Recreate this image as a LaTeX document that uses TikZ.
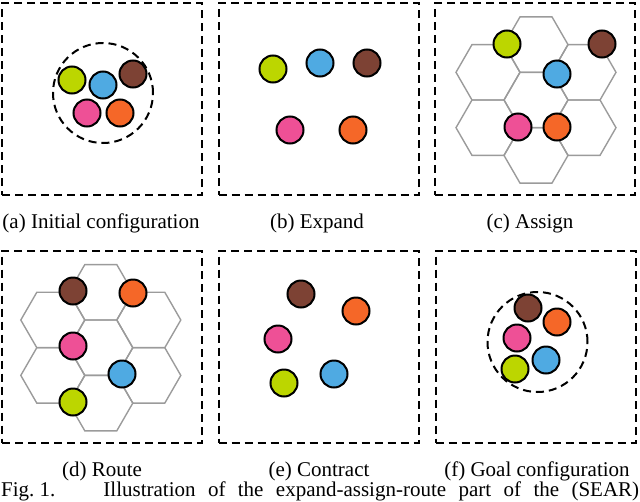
\documentclass[tikz,border=0pt]{standalone}
\usepackage{fontspec}
\setmainfont{Liberation Serif}
\definecolor{rlime}{RGB}{188,214,0}
\definecolor{rblue}{RGB}{79,170,226}
\definecolor{rbrown}{RGB}{125,66,52}
\definecolor{rpink}{RGB}{238,80,150}
\definecolor{rorange}{RGB}{245,103,40}
\definecolor{hexgray}{RGB}{155,155,155}
\newcommand{\hexcell}[2]{\draw[hexline] (#1+32,#2) -- ++(120:32) -- ++(180:32) -- ++(240:32) -- ++(300:32) -- ++(0:32) -- cycle;}
\newcommand{\hexflower}[2]{%
  \hexcell{#1}{#2}
  \hexcell{#1}{#2-55.4}
  \hexcell{#1}{#2+55.4}
  \hexcell{#1-48}{#2-27.7}
  \hexcell{#1+48}{#2-27.7}
  \hexcell{#1-48}{#2+27.7}
  \hexcell{#1+48}{#2+27.7}}
\begin{document}
\begin{tikzpicture}[x=1pt,y=-1pt,
  robot/.style={circle, draw=black, line width=2pt, minimum size=27pt, inner sep=0pt},
  frame/.style={draw=black, line width=2pt, dash pattern=on 8pt off 5pt, minimum width=200pt, minimum height=192pt, inner sep=0pt},
  ring/.style={circle, draw=black, line width=2pt, dash pattern=on 8pt off 5pt, minimum size=100pt, inner sep=0pt},
  hexline/.style={draw=hexgray, line width=1.4pt, line join=miter},
  subcap/.style={anchor=base, inner sep=0pt, font=\fontsize{21}{25}\selectfont}]
\useasboundingbox (0,0) rectangle (640,501);
% frames
\node[frame] (fa) at (102,99) {};
\node[frame] (fb) at (318.5,99) {};
\node[frame] (fc) at (535,99) {};
\node[frame] (fd) at (102,346.5) {};
\node[frame] (fe) at (318.5,346.5) {};
\node[frame] (ff) at (535.5,346.5) {};
% hex grids
\hexflower{536}{100}
\hexflower{100.8}{347.7}
% (a) initial
\node[robot, fill=rlime] (ag) at (72,80) {};
\node[robot, fill=rblue] (ab) at (103,85) {};
\node[robot, fill=rbrown] (abr) at (133,74) {};
\node[robot, fill=rpink] (ap) at (87,113) {};
\node[robot, fill=rorange] (ao) at (120,113) {};
\node[ring] (ra) at (103,93) {};
% (b) expand
\node[robot, fill=rlime] (bg) at (273,69) {};
\node[robot, fill=rblue] (bb) at (320,63) {};
\node[robot, fill=rbrown] (bbr) at (367,63) {};
\node[robot, fill=rpink] (bp) at (290,130) {};
\node[robot, fill=rorange] (bo) at (353,130) {};
% (c) assign
\node[robot, fill=rlime] (cg) at (507,44) {};
\node[robot, fill=rbrown] (cbr) at (602,44) {};
\node[robot, fill=rblue] (cb) at (557,74) {};
\node[robot, fill=rpink] (cp) at (518,127) {};
\node[robot, fill=rorange] (co) at (557,127) {};
% (d) route
\node[robot, fill=rbrown] (dbr) at (73,291) {};
\node[robot, fill=rorange] (do) at (133,293) {};
\node[robot, fill=rpink] (dp) at (73,346) {};
\node[robot, fill=rblue] (db) at (122,374) {};
\node[robot, fill=rlime] (dg) at (73,402) {};
% (e) contract
\node[robot, fill=rbrown] (ebr) at (301,294) {};
\node[robot, fill=rorange] (eo) at (356,311) {};
\node[robot, fill=rpink] (ep) at (278,339) {};
\node[robot, fill=rlime] (eg) at (284,383) {};
\node[robot, fill=rblue] (eb) at (334,374) {};
% (f) goal
\node[robot, fill=rbrown] (fbr) at (528,308) {};
\node[robot, fill=rorange] (fo) at (557,322) {};
\node[robot, fill=rpink] (fp) at (517,338) {};
\node[robot, fill=rblue] (fbl) at (546,360) {};
\node[robot, fill=rlime] (fg) at (515,369) {};
\node[ring] (rf) at (537.5,342) {};
% sub captions
\node[subcap] (ca) at (101,228) {(a) Initial configuration};
\node[subcap] (cb) at (317,228) {(b) Expand};
\node[subcap] (cc) at (530,228) {(c) Assign};
\node[subcap] (cd) at (102,476) {(d) Route};
\node[subcap] (ce) at (319,476) {(e) Contract};
\node[subcap] (cf) at (537,476) {(f) Goal configuration};
% figure caption
\node[anchor=base west, inner sep=0pt, font=\fontsize{21}{25}\selectfont] (fig) at (1,496)
  {\hbox to 638pt{Fig.\ 1.\hspace{48pt}Illustration\hfill of\hfill the\hfill expand-assign-route\hfill part\hfill of\hfill the\hfill (SEAR)}};
\end{tikzpicture}
\end{document}
